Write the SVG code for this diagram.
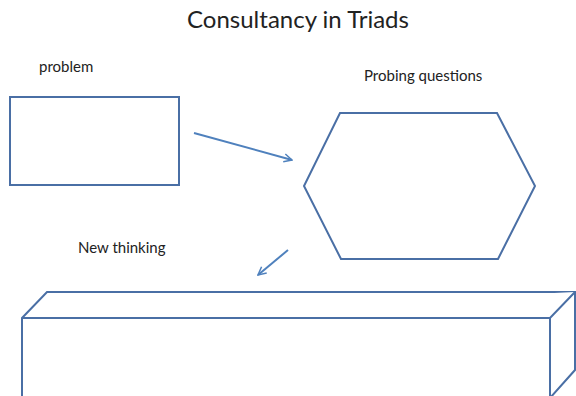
<svg xmlns="http://www.w3.org/2000/svg" width="576" height="396" viewBox="0 0 576 396">
<defs>
<style>
.shape{fill:#fff;stroke:#4a6fa5;stroke-width:2;stroke-linejoin:miter}
.conn{fill:none;stroke:#4f81bd;stroke-width:2}
.t{font-family:Lato,"Open Sans","Liberation Sans",sans-serif;fill:#222}
.s{font-size:15px}
</style>
<marker id="ah" viewBox="0 0 10 10" refX="9" refY="5" markerWidth="5" markerHeight="5" orient="auto" markerUnits="strokeWidth">
<path d="M1,1 L9,5 L1,9" fill="none" stroke="#4f81bd" stroke-width="1.5"/>
</marker>
</defs>
<rect width="576" height="396" fill="#fff"/>
<text class="t" x="298" y="28" text-anchor="middle" font-size="24">Consultancy in Triads</text>
<g id="problem">
<text class="t s" x="39" y="72">problem</text>
<rect class="shape" x="10" y="97" width="169" height="88"/>
</g>
<g id="probing">
<text class="t s" x="364" y="81">Probing questions</text>
<polygon class="shape" points="340,113 497,113 535,186 498,259 341,259 304,186"/>
</g>
<g id="newthinking">
<text class="t s" x="78" y="253">New thinking</text>
<polygon class="shape" points="22,318 47,292 575,292 575,370 550,398 22,398"/>
<polyline class="shape" fill="none" points="22,318 550,318 575,292"/>
<line class="shape" x1="550" y1="318" x2="550" y2="398"/>
</g>
<g id="connectors">
<line class="conn" x1="194" y1="133" x2="292" y2="160" marker-end="url(#ah)"/>
<line class="conn" x1="288" y1="250" x2="258" y2="275" marker-end="url(#ah)"/>
</g>
</svg>
